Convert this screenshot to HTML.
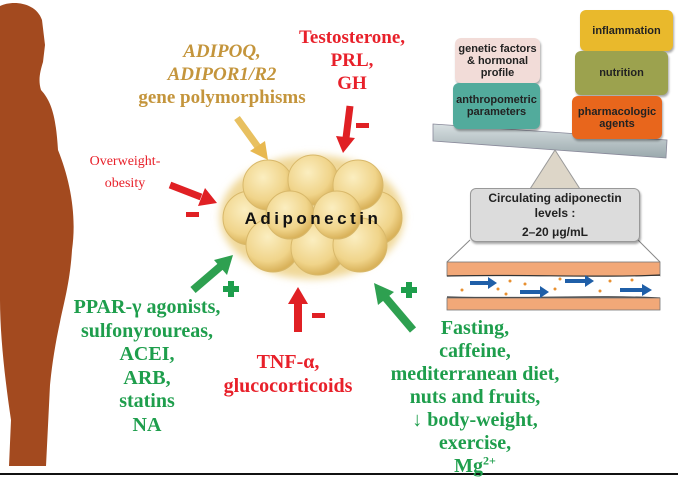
<!DOCTYPE html>
<html><head><meta charset="utf-8"><style>
html,body{margin:0;padding:0;background:#fff;}
body{width:678px;height:476px;position:relative;overflow:hidden;}
.t{position:absolute;font-family:"Liberation Serif",serif;font-weight:bold;text-align:center;white-space:nowrap;}
.g{color:#1e9e4c;}.r{color:#e8202a;}.y{color:#c4953c;}
.box{position:absolute;font-family:"Liberation Sans",sans-serif;font-weight:bold;font-size:11px;line-height:12px;text-align:center;display:flex;align-items:center;justify-content:center;border-radius:6px;color:#222;box-shadow:1px 2px 2px rgba(0,0,0,.35);}
</style></head><body>
<svg width="678" height="476" style="position:absolute;left:0;top:0">
<defs>
<radialGradient id="bub" cx="40%" cy="35%" r="65%"><stop offset="0" stop-color="#fbeec0"/><stop offset="0.7" stop-color="#f0d48a"/><stop offset="1" stop-color="#d9b25a"/></radialGradient>
<linearGradient id="beam" x1="0" y1="0" x2="0" y2="1"><stop offset="0" stop-color="#d8e0e2"/><stop offset="1" stop-color="#9aa8ac"/></linearGradient>
<filter id="glow"><feGaussianBlur stdDeviation="4"/></filter>
</defs>
<path d="M0,6 C12,0 36,2 42,20 L45,45 L43,62 C40,72 38,80 41,90 C52,102 56,118 58,150 C70,180 77,215 72,250 C70,282 64,302 60,322 C55,345 52,365 50,385 L46,466 L9,466 L11,420 C5,380 0,335 0,300 Z" fill="#a34a1f"/>
<line x1="0" y1="474" x2="678" y2="474" stroke="#111" stroke-width="2"/>
<!-- cloud -->
<ellipse cx="312" cy="217" rx="92" ry="62" fill="#f0d898" filter="url(#glow)"/>
<g fill="url(#bub)" stroke="#d8b86a" stroke-width="1">
<circle cx="250" cy="218" r="27"/><circle cx="375" cy="218" r="27"/>
<circle cx="268" cy="185" r="25"/><circle cx="313" cy="180" r="25"/><circle cx="358" cy="185" r="25"/>
<circle cx="273" cy="245" r="27"/><circle cx="318" cy="248" r="27"/><circle cx="360" cy="245" r="27"/>
<circle cx="290" cy="215" r="24"/><circle cx="337" cy="215" r="24"/>
</g>
<text x="313" y="224" font-family="Liberation Sans,sans-serif" font-weight="bold" font-size="17" letter-spacing="3.5" text-anchor="middle" fill="#111">Adiponectin</text>
<!-- arrows -->
<g stroke-linecap="butt">
<line x1="237" y1="118" x2="258" y2="147" stroke="#e8c060" stroke-width="7"/><polygon points="268,160 250,151 265,141" fill="#e8b850"/>
<line x1="350" y1="106" x2="346" y2="138" stroke="#e02024" stroke-width="7"/><polygon points="343,153 336,136 355,138" fill="#e02024"/>
<line x1="170" y1="185" x2="201" y2="197" stroke="#e02024" stroke-width="7"/><polygon points="217,203 198,206 205,188" fill="#e02024"/>
<line x1="193" y1="290" x2="221" y2="266" stroke="#2ea050" stroke-width="8"/><polygon points="233,255 227,275 214,260" fill="#2ea050"/>
<line x1="298" y1="332" x2="298" y2="302" stroke="#e02024" stroke-width="8"/><polygon points="298,287 308,304 288,304" fill="#e02024"/>
<line x1="413" y1="330" x2="385" y2="297" stroke="#2ea050" stroke-width="8"/><polygon points="374,283 394,292 378,305" fill="#2ea050"/>
</g>
<g fill="#e02024"><rect x="356" y="123" width="13" height="5"/><rect x="186" y="212" width="13" height="5"/><rect x="312" y="313" width="13" height="5"/></g>
<g fill="#1e9e4c"><rect x="223" y="286" width="16" height="6"/><rect x="228" y="281" width="6" height="16"/><rect x="401" y="287" width="16" height="6"/><rect x="406" y="282" width="6" height="16"/></g>
<!-- balance -->
<polygon points="433,124 667,140 666,158 433,141" fill="url(#beam)" stroke="#889" stroke-width="0.8"/>
<polygon points="555,150 530,189 580,189" fill="#ddd6c8" stroke="#999" stroke-width="1"/>
<line x1="470" y1="240" x2="447" y2="262" stroke="#888"/><line x1="638" y1="240" x2="660" y2="262" stroke="#888"/>
<rect x="447" y="262" width="213" height="14" fill="#f2a878" stroke="#777" stroke-width="0.8"/>
<rect x="447" y="276" width="213" height="21" fill="#fff"/>
<path d="M447,276 C520,274 600,278 660,275" fill="none" stroke="#333" stroke-width="1.2"/>
<path d="M447,297 C520,299 600,295 660,298" fill="none" stroke="#333" stroke-width="1.2"/>
<rect x="447" y="298" width="213" height="12" fill="#f2a878" stroke="#777" stroke-width="0.8"/>
<g fill="#1f5fa8">
<polygon points="470,281 488,281 488,277 497,283 488,289 488,285 470,285"/>
<polygon points="520,290 540,290 540,286 549,292 540,298 540,294 520,294"/>
<polygon points="565,279 585,279 585,275 594,281 585,287 585,283 565,283"/>
<polygon points="620,288 642,288 642,284 652,290 642,296 642,292 620,292"/>
</g>
<g fill="#e89030"><circle cx="462" cy="290" r="1.5"/><circle cx="498" cy="289" r="1.5"/><circle cx="510" cy="281" r="1.5"/><circle cx="525" cy="284" r="1.5"/><circle cx="555" cy="289" r="1.5"/><circle cx="560" cy="279" r="1.5"/><circle cx="600" cy="291" r="1.5"/><circle cx="610" cy="281" r="1.5"/><circle cx="632" cy="280" r="1.5"/><circle cx="506" cy="294" r="1.5"/></g>
</svg>
<div class="box" style="left:455px;top:38px;width:85px;height:45px;background:#f2dcd8;">genetic factors<br>&amp; hormonal<br>profile</div>
<div class="box" style="left:453px;top:83px;width:87px;height:46px;background:#52ab9c;">anthropometric<br>parameters</div>
<div class="box" style="left:580px;top:10px;width:93px;height:41px;background:#e9b92c;">inflammation</div>
<div class="box" style="left:575px;top:51px;width:93px;height:44px;background:#9ca24e;">nutrition</div>
<div class="box" style="left:572px;top:96px;width:90px;height:43px;background:#e8661c;">pharmacologic<br>agents</div>
<div class="box" style="left:470px;top:188px;width:168px;height:52px;background:#dcdcdc;border:1px solid #999;font-size:12px;line-height:15px;flex-direction:column;">Circulating adiponectin<br>levels :<div style="margin-top:4px">2–20 μg/mL</div></div>

<div class="t y" style="left:122px;top:40px;width:200px;font-size:19px;line-height:23px;"><i>ADIPOQ,<br>ADIPOR1/R2</i><br>gene polymorphisms</div>
<div class="t r" style="left:282px;top:26px;width:140px;font-size:19px;line-height:23px;">Testosterone,<br>PRL,<br>GH</div>
<div class="t r" style="left:75px;top:151px;width:100px;font-size:14px;line-height:22px;font-weight:normal;">Overweight-<br>obesity</div>
<div class="t g" style="left:47px;top:296px;width:200px;font-size:20px;line-height:23.5px;">PPAR-γ agonists,<br>sulfonyroureas,<br>ACEI,<br>ARB,<br>statins<br>NA</div>
<div class="t r" style="left:208px;top:350px;width:160px;font-size:20px;line-height:24px;">TNF-α,<br>glucocorticoids</div>
<div class="t g" style="left:375px;top:317px;width:200px;font-size:20px;line-height:23px;">Fasting,<br>caffeine,<br>mediterranean diet,<br>nuts and fruits,<br>↓ body-weight,<br>exercise,<br>Mg<sup style="font-size:12px;line-height:0">2+</sup></div>
</body></html>
